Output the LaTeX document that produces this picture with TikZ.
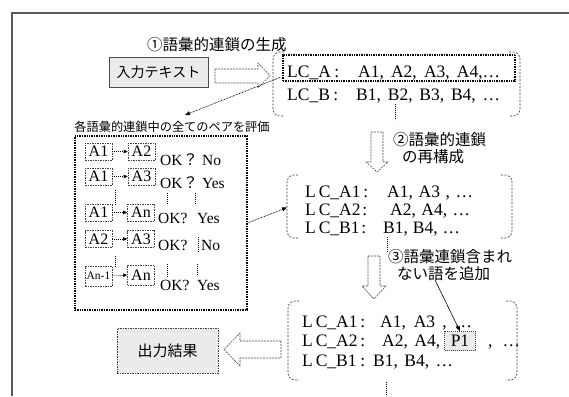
\documentclass[tikz,border=0pt]{standalone}
\usepackage{fontspec}
\setmainfont{Liberation Serif}
\newfontfamily\jp{Noto Sans CJK JP}
\usepackage{graphicx}
\usetikzlibrary{arrows.meta,calc}
\newcommand\spr[2]{\makebox[#1][s]{#2}}
\begin{document}
\begin{tikzpicture}[x=1pt,y=-1pt,
  jpt/.style={font=\jp\fontsize{15.5}{15.5}\selectfont, inner sep=0},
  lat/.style={font=\fontsize{17.5}{17.5}\selectfont, inner sep=0, anchor=base west},
  sm/.style={font=\fontsize{15.5}{15.5}\selectfont, inner sep=0, anchor=base west},
  pairbox/.style={draw=black!75, dash pattern=on 1.5pt off 1pt, line width=0.6pt, minimum width=27pt, minimum height=17pt, inner sep=0, font=\fontsize{16}{16}\selectfont},
  bracket/.style={draw=black!80, dash pattern=on 2pt off 1.5pt, line width=0.6pt, rounded corners=7pt},
  hollow/.style={draw=black!70, dash pattern=on 2pt off 1pt, line width=0.6pt, fill=white},
  dotarrow/.style={dash pattern=on 0.8pt off 0.8pt, line width=0.7pt, -{Triangle[length=5pt,width=4pt]}},
  vdots/.style={dash pattern=on 0.8pt off 1.2pt, line width=0.6pt},
  graybox/.style={fill=black!8, inner sep=0},
]
\useasboundingbox (0,0) rectangle (569,396);
% frame
\draw[black!65, line width=1.2pt] (12,396) -- (12,13) -- (569,13);

% step 1
\node[jpt, anchor=west] (t1) at (147,45) {①語彙的連鎖の生成};
\node[graybox, draw=black!70, line width=0.7pt, minimum width=99pt, minimum height=30pt,
      font=\jp\fontsize{14}{14}\selectfont] (input) at (158.5,72) {入力テキスト};
\draw[hollow] (215,69) -- (258,69) -- (258,63) -- (270,75.5) -- (258,88) -- (258,83) -- (215,83) -- cycle;

\draw[bracket] (284,52) -- (273,52) -- (273,116) -- (284,116);
\draw[bracket] (509,52) -- (520,52) -- (520,116) -- (509,116);
\node[draw=black, line width=1.3pt, dash pattern=on 1pt off 0.7pt, minimum width=232pt, minimum height=26pt, inner sep=0] (lcabox) at (399,68) {};
\node[lat] (lca) at (287,77) {\spr{52pt}{LC\_A\hfill:}};
\node[lat] (lcai) at (358,77) {\spr{142pt}{A1, A2, A3, A4,…}};
\node[lat] (lcb) at (287,100) {\spr{51pt}{LC\_B\hfill:}};
\node[lat] (lcbi) at (356,100) {\spr{144pt}{B1, B2, B3, B4, …}};
\coordinate (v1a) at (395,104); \coordinate (v1b) at (395,120);
\draw[vdots] (v1a) -- (v1b);

\coordinate (d1s) at (280,77.5);
\coordinate (d1e) at (185,115);
\draw[dotarrow] (d1s) -- (d1e);

% evaluation box
\node[font=\jp\fontsize{12.2}{12.2}\selectfont, inner sep=0] (evl) at (172,127) {各語彙的連鎖中の全てのペアを評価};
\node[draw=black, line width=1.3pt, dash pattern=on 1pt off 0.7pt, minimum width=172pt, minimum height=174pt, inner sep=0] (big) at (161,223) {};

% rows
\node[pairbox] (p1a) at (98.5,151.5) {A1};
\node[pairbox] (p1b) at (141.5,151.5) {A2};
\node[pairbox] (p2a) at (98.5,176.5) {A1};
\node[pairbox] (p2b) at (141.5,176.5) {A3};
\node[pairbox] (p3a) at (98.5,212.5) {A1};
\node[pairbox] (p3b) at (141,212.5) {An};
\node[pairbox] (p4a) at (98.5,239) {A2};
\node[pairbox] (p4b) at (141,239) {A3};
\node[pairbox, minimum height=20pt, font=\fontsize{11.5}{11.5}\selectfont] (p5a) at (98.5,276) {An-1};
\node[pairbox, minimum height=20pt] (p5b) at (141,275) {An};
\foreach \a/\b in {p1a/p1b,p2a/p2b,p3a/p3b,p4a/p4b,p5a/p5b}
  \draw[dash pattern=on 1pt off 1pt, line width=0.6pt, -{Triangle[length=4pt,width=3.5pt]}] (\a.east) -- (\b.west);

\node[sm] (ok1) at (160,165) {OK{\jp ？}};
\node[sm] (r1) at (202,165) {No};
\node[sm] (ok2) at (160,188) {OK{\jp ？}};
\node[sm] (r2) at (202,188) {Yes};
\node[sm] (ok3) at (158,223) {OK?};
\node[sm] (r3) at (197,223) {Yes};
\node[sm] (ok4) at (158,250) {OK?};
\node[sm] (r4) at (201,250) {No};
\node[sm] (ok5) at (160,290) {OK?};
\node[sm] (r5) at (197,290) {Yes};

\draw[vdots] (115,190) -- (115,205);
\draw[vdots] (167,193) -- (167,205);
\draw[vdots] (195,193) -- (195,205);
\draw[vdots] (198,237) -- (198,252);
\draw[vdots] (115,256) -- (115,268);
\draw[vdots] (167,264) -- (167,277);
\draw[vdots] (197,264) -- (197,276);

% step 2
\node[jpt, anchor=west] (t2a) at (393,140) {②語彙的連鎖};
\node[jpt, anchor=west] (t2b) at (402,157) {の再構成};
\draw[hollow] (371,132) -- (383,132) -- (383,162) -- (388,162) -- (377,172) -- (366,162) -- (371,162) -- cycle;

\draw[bracket] (298,175) -- (287,175) -- (287,238) -- (298,238);
\draw[bracket] (501,175) -- (512,175) -- (512,238) -- (501,238);
\coordinate (g2w) at (287,207.5);
\draw[dotarrow] (big.east) -- (g2w);

\node[lat] (m1) at (305,197) {\spr{63pt}{L\,C\_A1\hfill:}};
\node[lat] (m1i) at (387,197) {\spr{86pt}{A1, A3 , …}};
\node[lat] (m2) at (305,215) {\spr{62pt}{L\,C\_A2\hfill:}};
\node[lat] (m2i) at (390,215) {\spr{80pt}{A2, A4, …}};
\node[lat] (m3) at (305,233) {\spr{61pt}{L\,C\_B1\hfill:}};
\node[lat] (m3i) at (383,233) {\spr{77pt}{B1, B4, …}};
\draw[vdots] (387,237) -- (387,252);

% step 3
\node[jpt, anchor=west] (t3a) at (388,257) {③語彙連鎖含まれ};
\node[jpt, anchor=west] (t3b) at (397,274) {ない語を追加};
\draw[hollow] (368,256) -- (380,256) -- (380,286) -- (386,286) -- (374,299) -- (362,286) -- (368,286) -- cycle;

\draw[bracket] (299,301) -- (288,301) -- (288,380) -- (299,380);
\draw[bracket] (506,301) -- (517,301) -- (517,380) -- (506,380);
\node[lat] (b1) at (302,327) {\spr{63pt}{L\,C\_A1\hfill:}};
\node[lat] (b1i) at (380,327) {\spr{92pt}{A1, A3 , …}};
\node[lat] (b2) at (302,346) {\spr{63pt}{L\,C\_A2\hfill:}};
\node[lat] (b2i) at (382,346) {\spr{58pt}{A2, A4,}};
\node[graybox, draw=black!75, dash pattern=on 1pt off 1pt, line width=0.6pt, minimum width=31pt, minimum height=19pt, font=\fontsize{17.5}{17.5}\selectfont] (pone) at (460,341) {P1};
\node[lat] (b2j) at (488,346) {\spr{32pt}{, …}};
\node[lat] (b3) at (302,366) {\spr{63pt}{L\,C\_B1\hfill:}};
\node[lat] (b3i) at (373,366) {\spr{80pt}{B1, B4, …}};
\draw[vdots] (386,382) -- (386,396);

\coordinate (a3s) at (435,280);
\draw[line width=0.6pt, -{Triangle[length=5pt,width=4pt]}] (a3s) -- (pone.north);

% output
\node[graybox, draw=black!75, dash pattern=on 1.5pt off 1pt, line width=0.6pt, minimum width=101pt, minimum height=45pt,
      font=\jp\fontsize{15}{15}\selectfont] (out) at (167.5,350.5) {出力結果};
\draw[hollow] (281,341) -- (240,341) -- (240,333) -- (224,349.5) -- (240,366) -- (240,358) -- (281,358) -- cycle;
\end{tikzpicture}
\end{document}
